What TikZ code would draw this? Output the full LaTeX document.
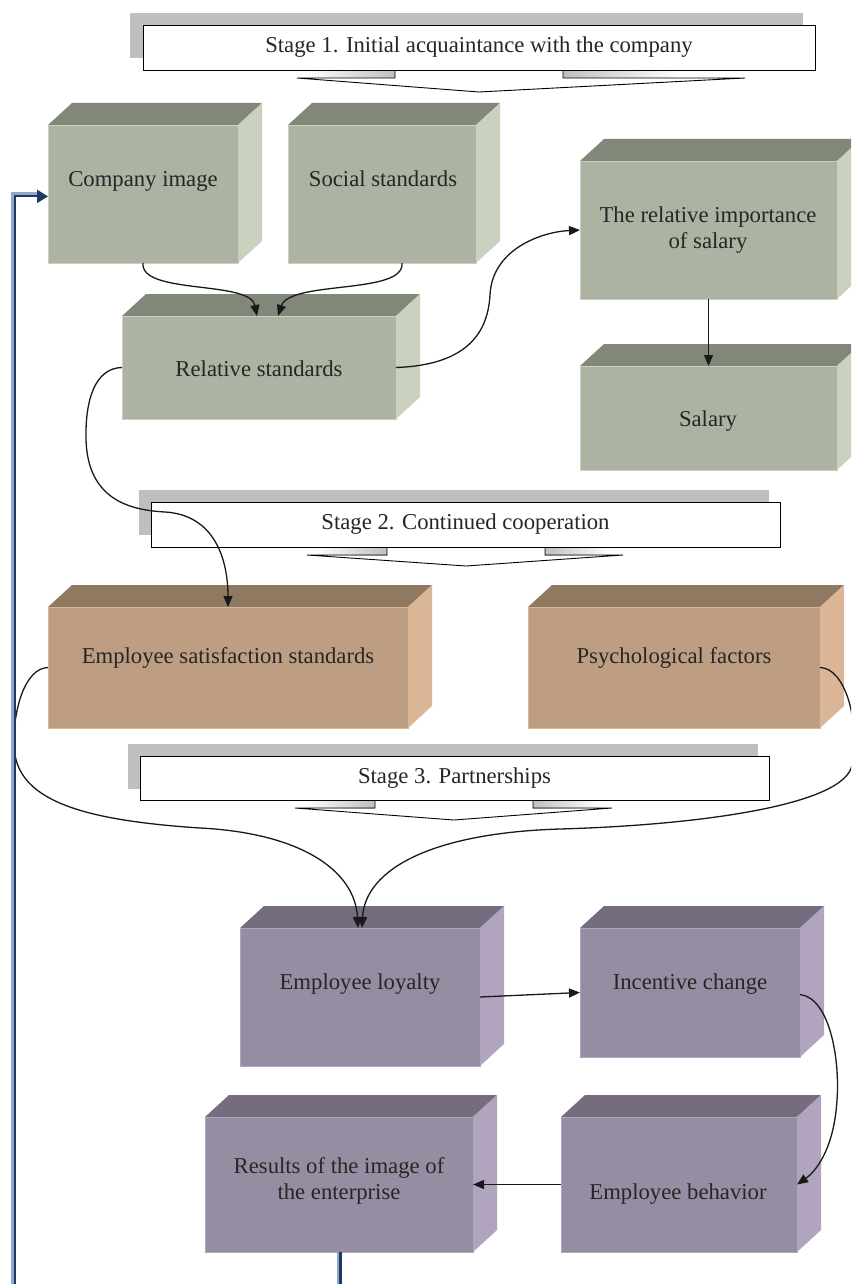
\documentclass[tikz,border=0pt]{standalone}
\usepackage{fontspec}
\setmainfont{Liberation Serif}
\usetikzlibrary{arrows.meta,calc}
\definecolor{gfront}{RGB}{172,179,163}
\definecolor{gtop}{RGB}{129,136,122}
\definecolor{gside}{RGB}{202,209,190}
\definecolor{bfront}{RGB}{189,158,131}
\definecolor{btop}{RGB}{143,121,98}
\definecolor{bside}{RGB}{218,182,150}
\definecolor{pfront}{RGB}{151,141,162}
\definecolor{ptop}{RGB}{117,109,126}
\definecolor{pside}{RGB}{176,164,190}
\definecolor{shadowgray}{RGB}{191,191,191}
\definecolor{txt}{RGB}{38,38,38}
\definecolor{fbl}{RGB}{143,168,204}
\definecolor{fbd}{RGB}{31,56,100}
\tikzset{
  frontface/.style={rectangle, inner sep=0pt, outer sep=0pt, line width=0.8pt},
  boxtext/.style={font={\fontsize{22.7}{26.7}\selectfont}, text=txt, align=center, inner sep=0pt},
  stagebox/.style={rectangle, draw=black, line width=0.9pt, fill=white, inner sep=0pt,
                   font={\fontsize{22.7}{26.7}\selectfont}, text=txt},
  bshadow/.style={fill=shadowgray},
  headline/.style={draw=black, line width=0.9pt},
  conn/.style={draw=black!90, line width=1.3pt, -{Triangle[length=11pt,width=9pt]}},
  fblight/.style={line width=3pt, draw=fbl},
  fbdark/.style={line width=2.2pt, draw=fbd},
}
% #1 name, #2 x1, #3 y1, #4 x2, #5 y2, #6 palette
\newcommand\cubebox[6]{%
  \fill[#6top] (#2,#3) -- ++(24,-22) -- (#4+24,#3-22) -- (#4,#3) -- cycle;
  \fill[#6side] (#4,#3) -- (#4+24,#3-22) -- (#4+24,#5-22) -- (#4,#5) -- cycle;
  \node[frontface, fill=#6front, draw=#6side, minimum width={#4-#2}, minimum height={#5-#3}]
     (#1) at ({(#2+#4)/2},{(#3+#5)/2}) {};
}
\begin{document}
\begin{tikzpicture}[x=1pt,y=-1pt]
\useasboundingbox (0,0) rectangle (851,1284);
\clip (0,0) rectangle (851,1284);
\fill[white] (0,0) rectangle (851,1284);

% ---------- Stage banners ----------
% Stage 1
\fill[bshadow] (130,13) rectangle (803,58);
\fill[white] (395,60) -- (395,78) -- (297,78) -- (479,92) -- (745,78) -- (563,78) -- (563,60) -- cycle;
\shade[left color=white, right color=shadowgray] (305,70) rectangle (395,78);
\shade[left color=shadowgray, right color=white] (563,70) rectangle (680,78);
\draw[headline] (395,60) -- (395,78) -- (297,78) -- (479,92) -- (745,78) -- (563,78) -- (563,60);
\node[stagebox, minimum width=672, minimum height=45] (st1) at (479,47.5) {Stage 1. Initial acquaintance with the company};

% Stage 2
\fill[bshadow] (139,490) rectangle (769,535);
\fill[white] (387,540) -- (387,555) -- (307,555) -- (466,566) -- (623,555) -- (545,555) -- (545,540) -- cycle;
\shade[left color=white, right color=shadowgray] (315,547) rectangle (387,555);
\shade[left color=shadowgray, right color=white] (545,547) rectangle (610,555);
\draw[headline] (387,540) -- (387,555) -- (307,555) -- (466,566) -- (623,555) -- (545,555) -- (545,540);
\node[stagebox, minimum width=629, minimum height=45] (st2) at (465.5,524.5) {Stage 2. Continued cooperation};

% Stage 3
\fill[bshadow] (128,744) rectangle (758,789);
\fill[white] (375,793) -- (375,808) -- (295,808) -- (454,820) -- (612,808) -- (533,808) -- (533,793) -- cycle;
\shade[left color=white, right color=shadowgray] (303,800) rectangle (375,808);
\shade[left color=shadowgray, right color=white] (533,800) rectangle (600,808);
\draw[headline] (375,793) -- (375,808) -- (295,808) -- (454,820) -- (612,808) -- (533,808) -- (533,793);
\node[stagebox, minimum width=629, minimum height=44] (st3) at (454.5,778) {Stage 3. Partnerships};

% ---------- 3D boxes ----------
\cubebox{ci}{48}{125}{238}{263}{g}
\cubebox{ss}{288}{125}{476}{263}{g}
\cubebox{rs}{122}{316}{396}{419}{g}
\cubebox{ri}{580}{161}{837}{299}{g}
\cubebox{sal}{580}{366}{837}{470}{g}
\cubebox{es}{48}{607}{408}{728}{b}
\cubebox{pf}{528}{607}{820}{728}{b}
\cubebox{el}{240}{928}{480}{1066}{p}
\cubebox{ic}{580}{928}{800}{1057}{p}
\cubebox{rie}{205}{1117}{473}{1252}{p}
\cubebox{eb}{561}{1117}{797}{1252}{p}

% ---------- texts ----------
\node[boxtext, anchor=base] (ci-t) at (143,186) {Company image};
\node[boxtext, anchor=base] (ss-t) at (383,186) {Social standards};
\node[boxtext, anchor=base] (rs-t) at (259,376) {Relative standards};
\node[boxtext] (ri-t) at (708,230) {The relative importance\\of salary};
\node[boxtext, anchor=base] (sal-t) at (708,426.7) {Salary};
\node[boxtext, anchor=base] (es-t) at (228,663) {Employee satisfaction standards};
\node[boxtext, anchor=base] (pf-t) at (674,663) {Psychological factors};
\node[boxtext, anchor=base] (el-t) at (360,989) {Employee loyalty};
\node[boxtext, anchor=base] (ic-t) at (690,989) {Incentive change};
\node[boxtext] (rie-t) at (339,1181) {Results of the image of\\the enterprise};
\node[boxtext, anchor=base] (eb-t) at (678,1199) {Employee behavior};

% ---------- connectors ----------
\draw[conn] (ci.south) .. controls (140,295) and (250,280) .. ($(rs.north)+(-2,0)$);
\draw[conn] ($(ss.south)+(20,0)$) .. controls (405,295) and (290,280) .. ($(rs.north)+(19,0)$);
\draw[conn] (rs.east) .. controls (470,365) and (488,330) .. (490,295)
            .. controls (492,250) and (540,232) .. (ri.west);
\draw[conn] (ri.south) -- (sal.north);
\draw[conn] (rs.west) .. controls (95,368) and (85,400) .. (86,440)
            .. controls (88,500) and (130,510) .. (165,512)
            .. controls (215,515) and (228,560) .. (es.north);
\draw[conn] (es.west) .. controls (25,668) and (13,710) .. (14,745)
            .. controls (15,800) and (80,820) .. (200,828)
            .. controls (300,833) and (355,870) .. ($(el.north)+(-2,0)$);
\draw[conn] (pf.east) .. controls (845,668) and (860,720) .. (852,765)
            .. controls (845,805) and (700,825) .. (560,829)
            .. controls (430,833) and (365,870) .. ($(el.north)+(2,0)$);
\draw[conn] (el.east) -- (ic.west);
\draw[conn] ($(ic.east)+(0,2)$) .. controls (830,998) and (840,1060) .. (837,1100)
            .. controls (834,1150) and (815,1172) .. (eb.east);
\draw[conn] (eb.west) -- (rie.east);

% ---------- feedback line ----------
\coordinate (fb1) at (338,1292);
\coordinate (fb2) at (12.5,1292);
\coordinate (fb3) at (12.5,194);
\draw[fblight] ([xshift=-1pt]rie.south) -- (fb1) -- (fb2) -- (fb3) -- ($(ci.west)+(-9,0)$);
\draw[fbdark, -{Triangle[length=11pt,width=13pt]}] ([shift={(1.4,0)}]rie.south)
   -- ([shift={(2.4,2.4)}]fb1) -- ([shift={(2.4,2.4)}]fb2) -- ([shift={(2.4,2.4)}]fb3)
   -- ([shift={(0,2.4)}]ci.west);
\end{tikzpicture}
\end{document}
